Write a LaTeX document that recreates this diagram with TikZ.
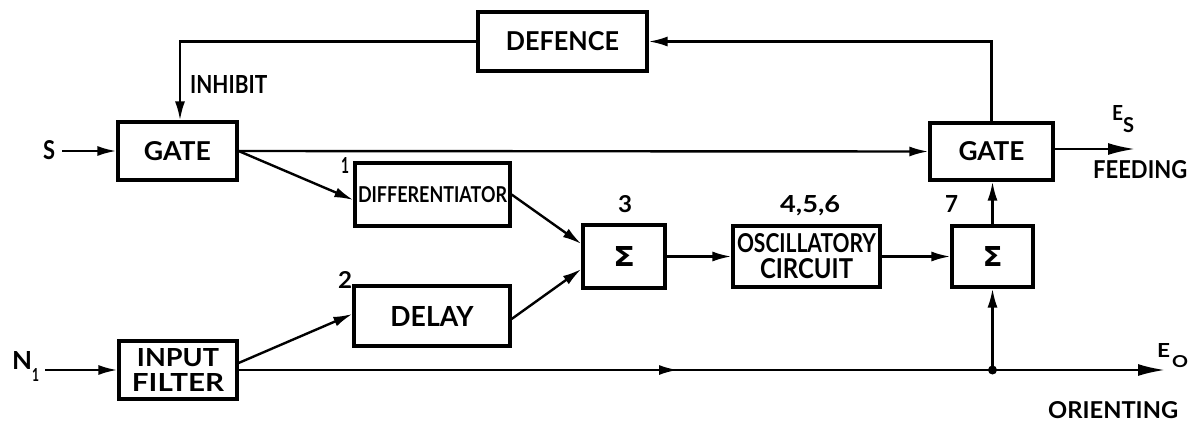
\documentclass[tikz,border=0pt]{standalone}
\usepackage{fontspec}
\setmainfont{Lato}
\newfontfamily\gkfont{DejaVu Sans}
\usetikzlibrary{arrows.meta,calc}
\newcommand{\rz}[3]{\resizebox{#1pt}{#2pt}{\bfseries #3}}
\begin{document}
\begin{tikzpicture}[x=1pt,y=-1pt,
  blk/.style={draw, line width=3.2pt, inner sep=0pt, align=center},
  lab/.style={inner sep=0pt, anchor=base west},
  ln/.style={line width=2.4pt},
  arr/.style={line width=2.4pt, -{Latex[length=19pt,width=10pt]}},
  bigarr/.style={line width=2.4pt, -{Latex[length=27pt,width=12pt]}}]
\useasboundingbox[fill=white] (0,0) rectangle (1195,423);

% blocks
\node[blk, minimum width=119pt, minimum height=58pt] (g1) at (177.5,151) {\rz{67}{19}{GATE}};
\node[blk, minimum width=169pt, minimum height=59pt] (def) at (562.5,41.5) {\rz{113}{19}{DEFENCE}};
\node[blk, minimum width=123pt, minimum height=57pt] (g2) at (991.5,151.5) {\rz{66}{19}{GATE}};
\node[blk, minimum width=155pt, minimum height=63pt] (dif) at (432.5,194.5) {\rz{149}{16}{DIFFERENTIATOR}};
\node[blk, minimum width=156pt, minimum height=60pt] (del) at (432,316) {\rz{83}{20}{DELAY}};
\node[blk, minimum width=118pt, minimum height=58pt, font=\fontsize{20}{25}\selectfont] (flt) at (178,370) {\rz{82}{18}{INPUT}\\\rz{92}{18}{FILTER}};
\node[blk, minimum width=82pt, minimum height=63pt] (s1) at (624,256.5) {\resizebox{22pt}{20pt}{\gkfont\bfseries Σ}};
\node[blk, minimum width=147pt, minimum height=61pt, font=\fontsize{20}{26}\selectfont] (osc) at (806.5,256.5) {\rz{139}{19}{OSCILLATORY}\\\rz{93}{20}{CIRCUIT}};
\node[blk, minimum width=81pt, minimum height=61pt] (s2) at (992.5,256.5) {\resizebox{20pt}{20pt}{\gkfont\bfseries Σ}};

% labels
\node[lab] (lS) at (43,159) {\rz{12}{19}{S}};
\node[lab] (lN) at (12,369) {\rz{20}{18}{N}\raisebox{-12pt}{\rz{7}{13}{1}}};
\node[lab] (inh) at (190,93) {\rz{77}{18}{INHIBIT}};
\node[lab] (n1) at (341,173) {\rz{8}{16}{1}};
\node[lab] (n2) at (338,288) {\rz{14}{17}{2}};
\node[lab] (n3) at (618,212) {\rz{14}{17}{3}};
\node[lab] (n456) at (780,212) {\rz{60}{17}{4,5,6}};
\node[lab] (n7) at (945,212) {\rz{13}{17}{7}};
\node[lab] (lES) at (1112,120) {\rz{11}{15}{E}\raisebox{-13pt}{\rz{11}{15}{S}}};
\node[lab] (feed) at (1093,178) {\rz{94}{18}{FEEDING}};
\node[lab] (lEO) at (1157,357) {\rz{13}{14}{E}\hspace{2pt}\raisebox{-10pt}{\rz{16}{12}{O}}};
\node[lab] (orient) at (1048,418) {\rz{130}{17}{ORIENTING}};

% coordinates
\coordinate (es) at (1135,149);
\coordinate (j) at (s2.south |- flt.east);
\coordinate (m) at (678,370);
\coordinate (eo) at (1165,370);

% connectors
\draw[arr, shorten <=7pt] (lS.east |- g1.west) -- (g1.west);
\draw[arr, shorten <=6pt] (lN.east |- flt.west) -- (flt.west);
\draw[arr] (g2.north) |- (def.east);
\draw[arr] (def.west) -| ([xshift=2.5pt]g1.north);
\draw[arr] (g1.east) -- (g2.west);
\draw[bigarr] (g2.east |- es) -- (es);
\draw[arr] (g1.east) -- ([yshift=-5.5pt]dif.west);
\draw[arr] ([yshift=7pt]flt.east) -- ([yshift=2pt]del.west);
\draw[arr] (dif.east) -- ([yshift=12.5pt]s1.west);
\draw[arr] ([yshift=-3pt]del.east) -- ([yshift=-12.5pt]s1.west);
\draw[arr] (s1) -- (osc);
\draw[arr] (osc) -- (s2);
\draw[arr] (s2.north) -- (s2.north |- g2.south);
\draw[ln] (flt.east) -- (j);
\draw[arr] (flt.east) -- (m);
\draw[bigarr] (j) -- (eo);
\draw[arr] (j) -- (s2.south);
\fill (j) circle (4.5pt);
\end{tikzpicture}
\end{document}
